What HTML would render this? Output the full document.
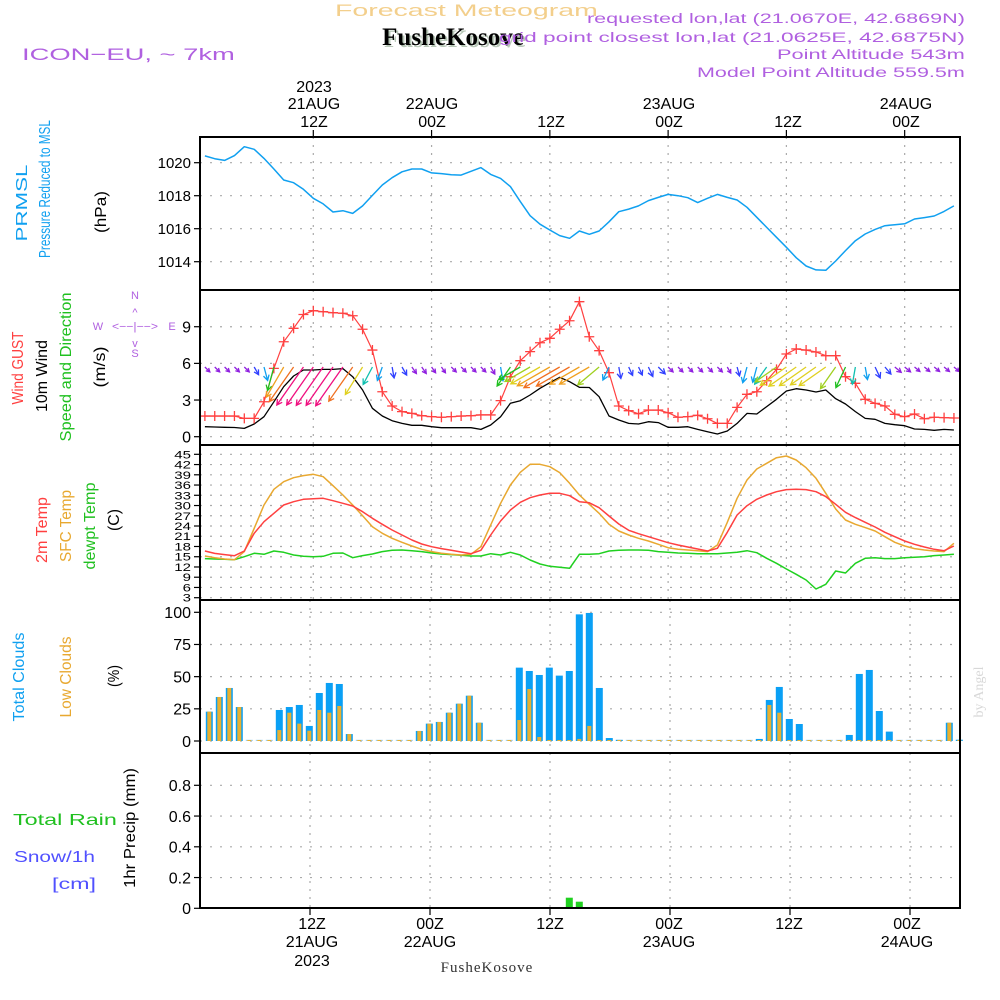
<!DOCTYPE html>
<html><head><meta charset="utf-8">
<style>
body{margin:0;background:#fff;}
svg{display:block;font-family:"Liberation Sans",sans-serif;}
</style></head>
<body>
<svg id="chart" width="1000" height="1000" viewBox="0 0 1000 1000" xmlns="http://www.w3.org/2000/svg">
<g id="labels">
<text x="335" y="16" font-size="17" fill="#f3cf8c" data-fit="263">Forecast Meteogram</text>
<text x="455" y="47" text-anchor="middle" font-size="25" font-weight="bold" font-family="Liberation Serif, serif" fill="#b8c8b8">FusheKosove</text>
<text x="453" y="45" text-anchor="middle" font-size="25" font-weight="bold" font-family="Liberation Serif, serif" fill="#000">FusheKosove</text>
<text x="22" y="60" font-size="17" fill="#b060e0" data-fit="213">ICON−EU, ~ 7km</text>
<g font-size="14" fill="#b060e0">
<text x="587" y="23" data-fit="378">requested lon,lat (21.0670E, 42.6869N)</text>
<text x="499" y="42" data-fit="466">grid point closest lon,lat (21.0625E, 42.6875N)</text>
<text x="777" y="59" data-fit="188">Point Altitude 543m</text>
<text x="697" y="77" data-fit="268">Model Point Altitude 559.5m</text>
</g>
<g font-size="16" fill="#000" text-anchor="middle">
<text x="314" y="92">2023</text><text x="314" y="109">21AUG</text><text x="314" y="127">12Z</text>
<text x="432" y="109">22AUG</text><text x="432" y="127">00Z</text>
<text x="551" y="127">12Z</text>
<text x="669" y="109">23AUG</text><text x="669" y="127">00Z</text>
<text x="788" y="127">12Z</text>
<text x="906" y="109">24AUG</text><text x="906" y="127">00Z</text>
</g>
<g font-size="16" fill="#000" text-anchor="middle">
<text x="312" y="929">12Z</text><text x="312" y="947">21AUG</text><text x="312" y="966">2023</text>
<text x="430" y="929">00Z</text><text x="430" y="947">22AUG</text>
<text x="550" y="929">12Z</text>
<text x="669" y="929">00Z</text><text x="669" y="947">23AUG</text>
<text x="789" y="929">12Z</text>
<text x="907" y="929">00Z</text><text x="907" y="947">24AUG</text>
</g>
<text x="487" y="972" text-anchor="middle" font-size="15" font-family="Liberation Serif, serif" fill="#333" letter-spacing="1">FusheKosove</text>
<g font-size="16">
<text data-base="translate(27,203) rotate(-90)" data-fit="77" text-anchor="middle" fill="#10a0f0">PRMSL</text>
<text data-base="translate(50,189) rotate(-90)" data-fit="138" text-anchor="middle" fill="#10a0f0">Pressure Reduced to MSL</text>
<text data-base="translate(106,212) rotate(-90)" data-fit="42" text-anchor="middle" fill="#000">(hPa)</text>
<text data-base="translate(23,368) rotate(-90)" data-fit="73" text-anchor="middle" fill="#ff4040">Wind GUST</text>
<text data-base="translate(47,376) rotate(-90)" data-fit="72" text-anchor="middle" fill="#000">10m Wind</text>
<text data-base="translate(71,367) rotate(-90)" data-fit="149" text-anchor="middle" fill="#20c020">Speed and Direction</text>
<text data-base="translate(105,367) rotate(-90)" data-fit="41" text-anchor="middle" fill="#000">(m/s)</text>
<text data-base="translate(47,530) rotate(-90)" data-fit="66" text-anchor="middle" fill="#ff4040">2m Temp</text>
<text data-base="translate(71,526) rotate(-90)" data-fit="72" text-anchor="middle" fill="#e8a830">SFC Temp</text>
<text data-base="translate(95,526) rotate(-90)" data-fit="87" text-anchor="middle" fill="#20c020">dewpt Temp</text>
<text data-base="translate(119,520) rotate(-90)" data-fit="22" text-anchor="middle" fill="#000">(C)</text>
<text data-base="translate(24,677) rotate(-90)" data-fit="89" text-anchor="middle" fill="#10a0f0">Total Clouds</text>
<text data-base="translate(71,677) rotate(-90)" data-fit="81" text-anchor="middle" fill="#e8a830">Low Clouds</text>
<text data-base="translate(119,676) rotate(-90)" data-fit="22" text-anchor="middle" fill="#000">(%)</text>
<text data-base="translate(135,828) rotate(-90)" data-fit="120" text-anchor="middle" fill="#000">1hr Precip (mm)</text>
<text x="13" y="825" fill="#20c020" data-fit="104">Total   Rain</text>
<text x="14" y="862" fill="#5050ff" data-fit="81">Snow/1h</text>
<text x="52" y="889" fill="#5050ff" data-fit="44">[cm]</text>
</g>
<text transform="translate(983,692) rotate(-90)" text-anchor="middle" font-size="14" font-family="Liberation Serif, serif" fill="#d8d8d8">by Angel</text>
<g font-size="11" fill="#b060e0" text-anchor="middle">
<text x="135" y="299">N</text><text x="135" y="357">S</text><text x="98" y="330">W</text><text x="172" y="330">E</text>
<text x="135" y="316">^</text><text x="135" y="347">v</text>
<text x="135" y="330" data-fit="46">&lt;−−|−−&gt;</text>
</g>
</g>
<g id="plot"></g>
</svg>
<script>
// ---- data (hourly, t = 1..77) ----
const hours = Array.from({length:77},(_,i)=>i+1);
const pressure = [1020.41,1020.24,1020.14,1020.43,1020.97,1020.81,1020.26,1019.62,1018.95,1018.79,1018.39,1017.84,1017.5,1017.01,1017.09,1016.93,1017.38,1018.02,1018.65,1019.09,1019.45,1019.62,1019.62,1019.38,1019.34,1019.27,1019.25,1019.48,1019.70,1019.29,1019.05,1018.55,1017.64,1016.79,1016.27,1015.92,1015.58,1015.42,1015.86,1015.66,1015.86,1016.42,1017.03,1017.19,1017.38,1017.70,1017.90,1018.08,1018.0,1017.88,1017.58,1017.84,1018.08,1017.90,1017.74,1017.30,1016.69,1016.08,1015.48,1014.87,1014.24,1013.74,1013.50,1013.48,1014.04,1014.67,1015.27,1015.68,1015.96,1016.18,1016.24,1016.30,1016.59,1016.67,1016.77,1017.05,1017.38];
const gust = [1.69,1.69,1.69,1.69,1.5,1.5,2.86,5.59,7.77,8.87,10.0,10.31,10.23,10.15,10.1,9.9,8.79,7.09,3.68,2.51,2.05,1.91,1.72,1.64,1.59,1.64,1.69,1.72,1.78,1.78,2.95,4.91,6.22,6.96,7.69,8.05,8.79,9.49,11.05,8.18,7.04,5.24,2.51,2.13,1.88,2.18,2.18,1.96,1.59,1.64,1.75,1.47,1.09,1.09,2.4,3.47,3.68,4.58,5.51,6.77,7.18,7.09,6.93,6.63,6.63,4.91,4.37,3.06,2.73,2.51,1.83,1.64,1.86,1.47,1.59,1.56,1.53];
const wind = [0.82,0.79,0.77,0.75,0.68,1.04,1.64,2.86,4.09,4.97,5.46,5.46,5.51,5.51,5.57,4.91,3.82,2.32,1.69,1.31,1.09,0.93,0.93,0.82,0.74,0.74,0.74,0.74,0.6,0.96,1.64,2.73,2.95,3.41,3.96,4.42,4.86,4.5,4.04,4.03,3.27,1.69,1.37,1.09,1.04,1.23,1.15,0.77,0.77,0.82,0.6,0.41,0.22,0.47,1.09,1.91,1.86,2.46,3.06,3.74,3.93,3.82,3.66,3.82,3.11,2.68,2.05,1.5,1.42,1.09,0.98,0.9,0.63,0.6,0.52,0.6,0.55];
const windDir = [135,135,135,135,135,150,165,195,210,215,215,215,215,215,215,215,212,208,200,170,150,145,145,145,145,135,135,135,135,150,170,215,240,240,240,240,240,240,240,240,230,205,170,155,155,155,135,135,135,135,135,135,135,150,165,195,195,215,235,235,235,235,235,235,215,205,190,170,155,140,130,130,130,130,130,130,130];
const t2m = [16.68,15.99,15.61,15.31,16.68,21.86,25.27,27.71,30.16,31.13,31.82,32.01,32.11,31.42,30.64,29.86,28.20,26.25,24.49,22.83,21.37,19.90,18.73,17.95,17.37,16.88,16.39,15.90,16.88,21.37,25.47,28.69,30.94,32.30,33.08,33.57,33.57,32.89,31.13,30.8,29.37,26.93,24.59,22.73,21.76,20.88,20.0,19.12,18.44,17.85,17.27,16.68,17.46,22.15,27.23,29.96,31.82,33.08,34.06,34.65,34.74,34.65,34.06,32.60,30.35,28.01,26.45,25.08,23.71,22.15,20.88,19.61,18.63,17.85,17.17,16.78,18.15];
const sfcTemp = [15.22,14.73,14.34,14.14,16.49,23.32,30.16,34.74,36.99,38.16,38.75,39.14,38.45,35.82,33.08,30.16,27.03,23.81,21.86,20.39,19.22,18.15,17.17,16.49,16.0,15.71,15.51,15.71,17.95,24.30,30.64,36.01,39.72,42.07,42.07,41.38,39.63,36.50,33.08,30.35,27.71,24.49,22.54,21.37,20.39,19.61,18.63,17.66,17.17,16.97,16.78,16.49,18.44,25.08,32.11,37.48,40.70,42.36,44.02,44.51,43.34,41.09,37.97,33.57,28.98,25.76,24.49,23.52,22.54,20.88,19.22,18.15,17.37,16.97,16.68,16.49,18.93];
const dewpt = [14.44,14.34,14.24,14.14,15.02,16.0,15.71,16.68,16.29,15.51,15.12,15.02,15.12,16.0,16.1,14.73,15.32,15.80,16.49,16.88,16.97,16.78,16.49,16.10,15.80,15.61,15.41,15.22,15.22,15.90,15.51,16.29,15.51,14.04,12.87,12.19,11.90,11.60,15.71,15.71,15.90,16.68,16.88,16.97,16.97,16.88,16.49,16.29,16.10,16.0,15.90,15.90,15.90,16.10,16.29,16.78,16.19,14.53,13.07,11.41,9.85,8.19,5.55,6.92,10.82,10.24,13.07,14.53,14.73,14.44,14.44,14.73,14.83,15.02,15.32,15.51,15.71];
// bars: hours 2..77
const totalCloud = [22.8,34.2,41.2,26.4,0,0,0,24.1,26.4,28.0,11.7,37.3,45.1,44.3,5.4,0,0,0,0,0,0,7.8,13.5,14.8,22.0,29.0,35.2,14.2,0,0,0,57.0,54.4,51.3,57.0,50.8,54.4,98.4,99.5,41.2,2.3,0.8,0,0,0,0,0,0,0,0,0,0,0,0,0,1.6,31.9,42.0,17.1,13.2,0,0,0,0,4.7,52.1,55.2,23.3,7.3,0,0,0,0,0,14.2,1];
const lowCloud = [22.8,34.2,41.2,26.4,0,0,0,8.5,22.0,13.5,8.0,24.1,22.0,27.2,5.4,0,0,0,0,0,0,7.8,13.5,14.8,22.0,29.0,35.2,14.2,0,0,0,16.3,40.4,3.1,0.5,0.5,0.5,1.6,11.7,0,0,0,0,0,0,0,0,0,0,0,0,0,0,0,0,0,28.0,22.0,0,0,0,0,0,0,0,0,0,0,0,0,0,0,0,0,14.2,0];
const precip = [0,0,0,0,0,0,0,0,0,0,0,0,0,0,0,0,0,0,0,0,0,0,0,0,0,0,0,0,0,0,0,0,0,0,0,0,0.069,0.043,0,0,0,0,0,0,0,0,0,0,0,0,0,0,0,0,0,0,0,0,0,0,0,0,0,0,0,0,0,0,0,0,0,0,0,0,0,0];
const pTicks = [1014,1016,1018,1020];
const wTicks = [0,3,6,9];
const tTicks = [3,6,9,12,15,18,21,24,27,30,33,36,39,42,45];
const cTicks = [0,25,50,75,100];
const rTicks = [0,0.2,0.4,0.6,0.8];
const dayHours = [12,24,36,48,60,72];

// fit labels to target widths
document.querySelectorAll('[data-fit]').forEach(el=>{
  const target=parseFloat(el.getAttribute('data-fit'));
  const w=el.getComputedTextLength();
  if(!w)return;
  const s=target/w;
  const base=el.getAttribute('data-base');
  if(base){
    el.setAttribute('transform', base+' scale('+s+',1)');
  } else {
    const x=parseFloat(el.getAttribute('x')),y=parseFloat(el.getAttribute('y'));
    el.setAttribute('transform','translate('+x+','+y+') scale('+s+',1) translate('+(-x)+','+(-y)+')');
  }
});

const L=200,R=960;
const xT = t => 313.3 + (t-12)*9.856;
const xB = t => 189.3 + t*10;
const yP = p => 162.7 + (1020-p)*16.5;
const yW = v => 436.7 - v*12.22;
const yT = c => 597.7 - (c-3)*3.414;
const yC = c => 741 - c*1.287;
const yR = v => 908.3 - v*153.75;
const panels=[[137,290],[290,445],[445,600],[600,753],[753,908]];

const NS='http://www.w3.org/2000/svg';
const plot=document.getElementById('plot');
function mk(tag,attrs,parent){const e=document.createElementNS(NS,tag);for(const k in attrs)e.setAttribute(k,attrs[k]);(parent||plot).appendChild(e);return e;}

function hgrid(ticks,yf,fmt,fs,name,squash){
  ticks.forEach(v=>{
    const y=yf(v);
    const g=mk('line',{x1:L,x2:R,y1:y,y2:y,stroke:'#aaa','stroke-width':1.2,'stroke-dasharray':'2,8'});
    
    
    const tk=mk('line',{x1:L-6,x2:L,y1:y,y2:y,stroke:'#000','stroke-width':1.2});
    
    
    const attrs = squash ? {x:L-9,y:0,'text-anchor':'end','font-size':fs,fill:'#000',transform:`translate(0,${y+4}) scale(1,0.75)`} : {x:L-9,y:y+fs*0.36,'text-anchor':'end','font-size':fs,fill:'#000'};
    const tx=mk('text',attrs);
    tx.textContent=fmt(v);
    
    
  });
}
hgrid(pTicks,yP,v=>v,15,'pressure');
hgrid(wTicks,yW,v=>v,16,'wind');
hgrid(tTicks,yT,v=>v,15,'temp',true);
hgrid(cTicks,yC,v=>v,16,'cloud');
hgrid(rTicks,yR,v=>v===0?'0':v.toFixed(1),16,'precip');
panels.forEach((p,i)=>{
  dayHours.forEach(h=>{
    const x = i<3 ? xT(h) : xB(h)+0.7;
    const g=mk('line',{x1:x,x2:x,y1:p[0],y2:p[1],stroke:'#aaa','stroke-width':1.2,'stroke-dasharray':'2,6'});
    
    
  });
});
dayHours.forEach(h=>{
  const t1=mk('line',{x1:xT(h),x2:xT(h),y1:130,y2:137,stroke:'#000','stroke-width':1.2});
  
  
  const t2=mk('line',{x1:xB(h)+0.7,x2:xB(h)+0.7,y1:908,y2:915,stroke:'#000','stroke-width':1.2});
  
  
});

function line(xs,ys,color,w,name){
  const d=xs.map((x,i)=>(i?'L':'M')+x.toFixed(1)+','+ys[i].toFixed(1)).join('');
  const p=mk('path',{d:d,fill:'none',stroke:color,'stroke-width':w,'stroke-linejoin':'round'});
  
  
  return p;
}
line(hours.map(xT),pressure.map(yP),'#10a0f0',1.5,'pressure-line');
line(hours.map(xT),wind.map(yW),'#000',1.3,'wind-speed-line');
line(hours.map(xT),gust.map(yW),'#ff4040',1.2,'gust-line');
gust.forEach((g,i)=>{
  const x=xT(hours[i]),y=yW(g);
  const m=mk('path',{d:`M${x-5},${y}H${x+5}M${x},${y-5}V${y+5}`,stroke:'#ff4040','stroke-width':1.3});
  
  
});
function wcol(v){
  if(v<1)return '#9020e0'; if(v<1.5)return '#3040ff'; if(v<2)return '#10a0f0';
  if(v<2.5)return '#10c0b0'; if(v<3)return '#20c020'; if(v<3.5)return '#a0d020';
  if(v<4)return '#e0d020'; if(v<4.5)return '#f0a020'; if(v<5)return '#f07020';
  if(v<5.3)return '#ff3040'; return '#f01080';
}
wind.forEach((v,i)=>{
  const x0=xT(hours[i]),y0=367;
  const len=Math.max(7,v*8.5);
  const a=windDir[i]*Math.PI/180;
  const dx=Math.sin(a),dy=-Math.cos(a);
  const x1=x0+dx*len,y1=y0+dy*len;
  const hl=Math.min(6,len*0.6);
  const ang=Math.atan2(dy,dx);
  const h1x=x1-hl*Math.cos(ang-0.5),h1y=y1-hl*Math.sin(ang-0.5);
  const h2x=x1-hl*Math.cos(ang+0.5),h2y=y1-hl*Math.sin(ang+0.5);
  const p=mk('path',{d:`M${x0},${y0}L${x1},${y1}M${h1x},${h1y}L${x1},${y1}L${h2x},${h2y}`,fill:'none',stroke:wcol(v),'stroke-width':1.3});
  
  
});
line(hours.map(xT),dewpt.map(yT),'#20d020',1.5,'dewpoint-line');
line(hours.map(xT),sfcTemp.map(yT),'#e8a830',1.5,'sfc-temp-line');
line(hours.map(xT),t2m.map(yT),'#ff4040',1.5,'t2m-line');
totalCloud.forEach((c,i)=>{
  const x=xB(i+2);
  const h=Math.max(1.2,741-yC(c));
  const b=mk('rect',{x:x-3.5,y:741-h,width:7,height:h,fill:c>0?'#0aa0f5':'#9cd0f0'});
  
  
  const lc=lowCloud[i];
  const h2=Math.max(1,741-yC(lc));
  const o=mk('rect',{x:x-2,y:741-h2,width:4,height:h2,fill:'#e8b030'});
  
  
});
precip.forEach((v,i)=>{
  if(v<=0)return;
  const x=xB(i+2);
  const b=mk('rect',{x:x-3.5,y:yR(v),width:7,height:908.3-yR(v),fill:'#20d020'});
  
  
});
const zl=mk('line',{x1:L,x2:R,y1:907.5,y2:907.5,stroke:'#000','stroke-width':1,'stroke-dasharray':'4,3'});


panels.forEach((p,i)=>{
  const r=mk('rect',{x:L,y:p[0],width:R-L,height:p[1]-p[0],fill:'none',stroke:'#000','stroke-width':2});
  
  
});
</script>
</body></html>
